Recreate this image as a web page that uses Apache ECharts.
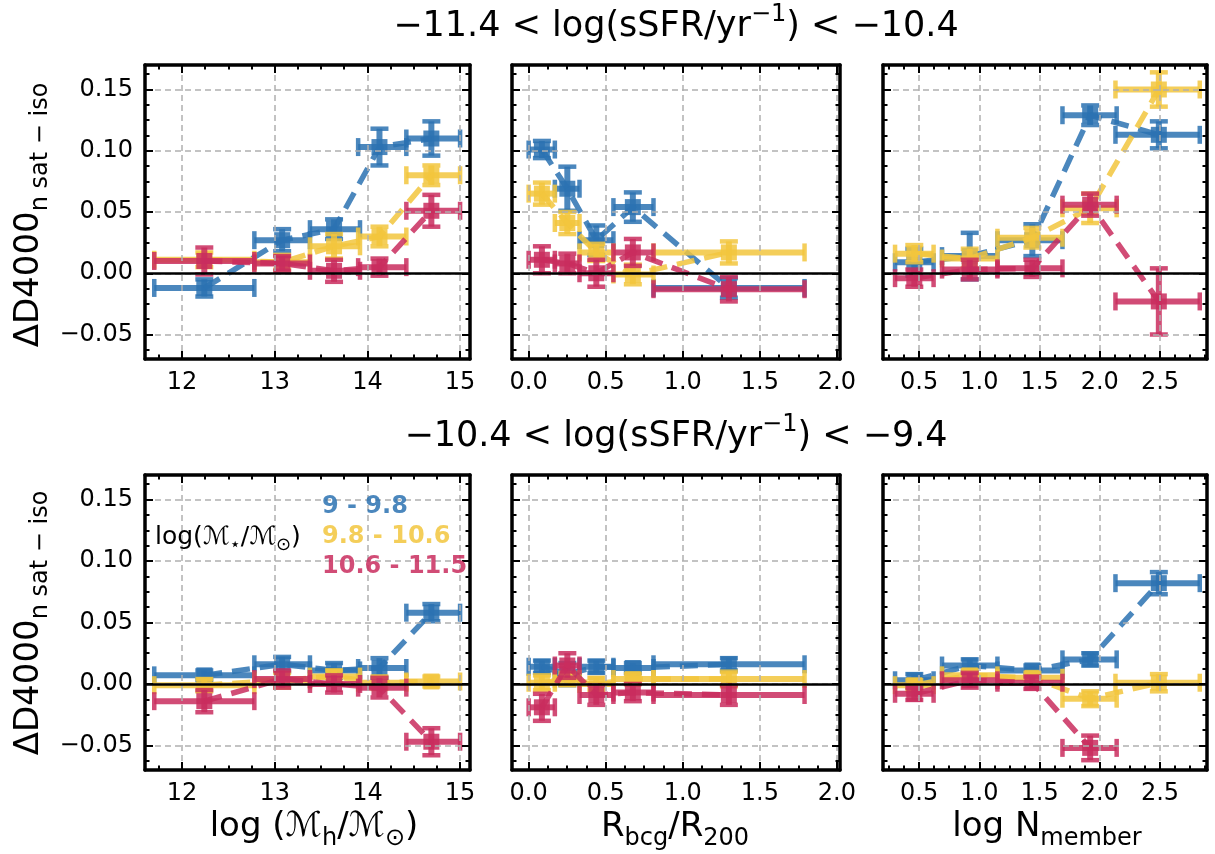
<!DOCTYPE html>
<html><head><meta charset="utf-8">
<script src="https://cdn.jsdelivr.net/npm/echarts@6/dist/echarts.min.js"></script>
<style>html,body{margin:0;padding:0;background:#fff}#chart{width:1215px;height:854px}</style>
</head><body><div id="chart"></div>
<script>
// ---------- bins (x centres and horizontal error extents) ----------
const mhX  = [12.24, 13.08, 13.64, 14.13, 14.69];
const mhLo = [11.70, 12.78, 13.38, 13.90, 14.42];
const mhHi = [12.78, 13.38, 13.92, 14.42, 15.00];
const rX   = [0.086, 0.251, 0.439, 0.676, 1.299];
const rLo  = [0.00, 0.17, 0.33, 0.55, 0.81];
const rHi  = [0.17, 0.33, 0.55, 0.81, 1.79];
const nX   = [0.46, 0.92, 1.44, 1.92, 2.49];
const nLo  = [0.30, 0.69, 1.15, 1.69, 2.13];
const nHi  = [0.62, 1.15, 1.69, 2.14, 2.83];

// ---------- y values [blue, yellow, red] and errors ----------
const yMhTop = [[-0.012, 0.027, 0.036, 0.103, 0.110],
                [ 0.011, 0.009, 0.022, 0.030, 0.080],
                [ 0.010, 0.008, 0.002, 0.005, 0.051]];
const eMhTop = [[0.007, 0.009, 0.008, 0.015, 0.014],
                [0.006, 0.006, 0.010, 0.008, 0.008],
                [0.011, 0.006, 0.009, 0.007, 0.013]];
const yRTop  = [[0.101, 0.069, 0.027, 0.054, -0.012],
                [0.065, 0.041, 0.017, -0.001, 0.017],
                [0.011, 0.008, 0.000, 0.017, -0.013]];
const eRTop  = [[0.007, 0.018, 0.012, 0.012, 0.008],
                [0.009, 0.009, 0.007, 0.008, 0.009],
                [0.011, 0.008, 0.011, 0.011, 0.010]];
const yNTop  = [[0.009, 0.014, 0.027, 0.129, 0.113],
                [0.016, 0.012, 0.029, 0.053, 0.150],
                [-0.004, 0.003, 0.004, 0.056, -0.023]];
const eNTop  = [[0.011, 0.019, 0.013, 0.008, 0.011],
                [0.007, 0.008, 0.008, 0.012, 0.014],
                [0.007, 0.008, 0.007, 0.009, 0.027]];
const yMhBot = [[0.007, 0.016, 0.011, 0.013, 0.058],
                [-0.001, 0.003, 0.006, 0.001, 0.002],
                [-0.014, 0.004, 0.000, -0.003, -0.047]];
const eMhBot = [[0.004, 0.006, 0.006, 0.008, 0.007],
                [0.005, 0.006, 0.005, 0.005, 0.004],
                [0.009, 0.007, 0.007, 0.008, 0.011]];
const yRBot  = [[0.014, 0.008, 0.014, 0.013, 0.016],
                [0.001, 0.004, 0.000, 0.004, 0.004],
                [-0.019, 0.015, -0.009, -0.007, -0.009]];
const eRBot  = [[0.005, 0.009, 0.005, 0.004, 0.005],
                [0.006, 0.005, 0.005, 0.004, 0.006],
                [0.011, 0.010, 0.008, 0.007, 0.008]];
const yNBot  = [[0.003, 0.015, 0.011, 0.020, 0.082],
                [-0.001, 0.007, 0.005, -0.012, 0.001],
                [-0.008, 0.003, 0.001, -0.052]];
const eNBot  = [[0.005, 0.005, 0.004, 0.005, 0.009],
                [0.004, 0.004, 0.004, 0.006, 0.007],
                [0.005, 0.006, 0.005, 0.010]];

// ---------- ticks ----------
const mhTicks = [12, 13, 14, 15];
const rTicks  = [0, 0.5, 1.0, 1.5, 2.0];
const nTicks  = [0.5, 1.0, 1.5, 2.0, 2.5];
const yTicks  = [-0.05, 0.00, 0.05, 0.10, 0.15];
const legendNames = ['9 - 9.8', '9.8 - 10.6', '10.6 - 11.5'];

// ---------- styling ----------
const FONT = 'DejaVu Sans';
const COLORS = ['#2C72B2', '#F2C53D', '#C92D5E'];
const OP = 0.85;
const YLIM = [-0.07, 0.17];
const MINUS = '\u2212';

function minorsOf(major, n, lim) {
  const step = (major[1] - major[0]) / n;
  const out = [];
  const start = major[0] - Math.ceil((major[0] - lim[0]) / step) * step;
  for (let v = start; v <= lim[1] + 1e-9; v += step) {
    const isMajor = major.some(m => Math.abs(m - v) < step / 10);
    if (!isMajor && v >= lim[0] - 1e-9) out.push(+v.toFixed(6));
  }
  return out;
}

const xKinds = {
  mh: {x: mhX, lo: mhLo, hi: mhHi, ticks: mhTicks, lim: [11.6, 15.107], fmt: v => String(Math.round(v))},
  r:  {x: rX, lo: rLo, hi: rHi, ticks: rTicks, lim: [-0.108, 2.02], fmt: v => v.toFixed(1)},
  n:  {x: nX, lo: nLo, hi: nHi, ticks: nTicks, lim: [0.2, 2.89], fmt: v => v.toFixed(1)}
};

const panels = [
  {kind: 'mh', ys: yMhTop, es: eMhTop, grid: {left: 145, top: 65, width: 325, height: 294}, ylab: true},
  {kind: 'r',  ys: yRTop,  es: eRTop,  grid: {left: 512, top: 65, width: 328, height: 294}, ylab: false},
  {kind: 'n',  ys: yNTop,  es: eNTop,  grid: {left: 883, top: 65, width: 324, height: 294}, ylab: false},
  {kind: 'mh', ys: yMhBot, es: eMhBot, grid: {left: 145, top: 475, width: 325, height: 295}, ylab: true},
  {kind: 'r',  ys: yRBot,  es: eRBot,  grid: {left: 512, top: 475, width: 328, height: 295}, ylab: false},
  {kind: 'n',  ys: yNBot,  es: eNBot,  grid: {left: 883, top: 475, width: 324, height: 295}, ylab: false}
];

function axesFor(dim, gi, lim, major, minor, showLabels, fmt) {
  const pos = dim === 'x' ? ['bottom', 'top'] : ['left', 'right'];
  const out = [];
  pos.forEach((p, pi) => {
    out.push({
      type: 'value', gridIndex: gi, position: p, min: lim[0], max: lim[1],
      axisLine: {show: true, onZero: false, lineStyle: {color: '#000', width: 3.5}},
      axisTick: {show: true, inside: true, length: 8, customValues: major, lineStyle: {color: '#000', width: 2}},
      axisLabel: {show: showLabels && pi === 0, customValues: major, formatter: fmt,
                  fontFamily: FONT, fontSize: 24, color: '#000', margin: 12},
      splitLine: {show: pi === 0, lineStyle: {color: '#b0b0b0', width: 1.5, type: [6, 4]}},
      minorTick: {show: false}, minorSplitLine: {show: false}, z: 5
    });
    out.push({
      type: 'value', gridIndex: gi, position: p, min: lim[0], max: lim[1],
      axisLine: {show: false, onZero: false},
      axisTick: {show: true, inside: true, length: 4.5, customValues: minor, lineStyle: {color: '#000', width: 2}},
      axisLabel: {show: false, customValues: minor},
      splitLine: {show: false}, z: 5
    });
  });
  return out;
}

function makeRender(color) {
  return function (params, api) {
    const x = api.value(0), y = api.value(1), lo = api.value(2), hi = api.value(3), e = api.value(4);
    const c = api.coord([x, y]), l = api.coord([lo, y]), h = api.coord([hi, y]);
    const t = api.coord([x, y + e]), b = api.coord([x, y - e]);
    const st = {stroke: color, lineWidth: 6, opacity: OP};
    const cs = {stroke: color, lineWidth: 4.5, opacity: OP};
    const cap = 9, ms = 16;
    return {type: 'group', children: [
      {type: 'line', shape: {x1: l[0], y1: l[1], x2: h[0], y2: h[1]}, style: st},
      {type: 'line', shape: {x1: t[0], y1: t[1], x2: b[0], y2: b[1]}, style: st},
      {type: 'line', shape: {x1: l[0], y1: l[1] - cap, x2: l[0], y2: l[1] + cap}, style: cs},
      {type: 'line', shape: {x1: h[0], y1: h[1] - cap, x2: h[0], y2: h[1] + cap}, style: cs},
      {type: 'line', shape: {x1: t[0] - cap, y1: t[1], x2: t[0] + cap, y2: t[1]}, style: cs},
      {type: 'line', shape: {x1: b[0] - cap, y1: b[1], x2: b[0] + cap, y2: b[1]}, style: cs},
      {type: 'rect', shape: {x: c[0] - ms / 2, y: c[1] - ms / 2, width: ms, height: ms}, style: {fill: color, opacity: OP}}
    ]};
  };
}

const grids = [], xAxes = [], yAxes = [], series = [];
const yMinor = minorsOf(yTicks, 4, YLIM);
panels.forEach((p, gi) => {
  const k = xKinds[p.kind];
  grids.push(Object.assign({containLabel: false}, p.grid));
  xAxes.push(...axesFor('x', gi, k.lim, k.ticks, minorsOf(k.ticks, 4, k.lim), true, k.fmt));
  yAxes.push(...axesFor('y', gi, YLIM, yTicks, yMinor, p.ylab,
    v => (v < 0 ? MINUS : '') + Math.abs(v).toFixed(2)));
  // zero line
  series.push({type: 'line', xAxisIndex: 4 * gi, yAxisIndex: 4 * gi, data: [], silent: true, z: 1,
    markLine: {silent: true, symbol: ['none', 'none'], label: {show: false},
      lineStyle: {color: '#000', width: 2.5, type: 'solid'}, data: [{yAxis: 0}]}});
  p.ys.forEach((yy, ci) => {
    const pts = yy.map((v, i) => [k.x[i], v]);
    const rows = yy.map((v, i) => [k.x[i], v, k.lo[i], k.hi[i], p.es[ci][i]]);
    series.push({type: 'line', name: legendNames[ci], xAxisIndex: 4 * gi, yAxisIndex: 4 * gi,
      data: pts, symbol: 'none', silent: true, z: 2 + ci,
      lineStyle: {color: COLORS[ci], width: 5.5, type: [18, 10], opacity: OP}});
    series.push({type: 'custom', name: legendNames[ci], xAxisIndex: 4 * gi, yAxisIndex: 4 * gi,
      data: rows, encode: {x: 0, y: 1}, renderItem: makeRender(COLORS[ci]), silent: true, z: 2 + ci});
  });
});

function richBase(size, sub) {
  return {
    m: {fontSize: size, fontFamily: FONT, fill: '#000', lineHeight: Math.round(size * 1.38), verticalAlign: 'middle'},
    s: {fontSize: sub, fontFamily: FONT, fill: '#000', lineHeight: sub, verticalAlign: 'bottom'},
    u: {fontSize: sub, fontFamily: FONT, fill: '#000', lineHeight: sub, verticalAlign: 'top'}
  };
}
function txt(x, y, text, rich, extra) {
  return Object.assign({type: 'text', x: x, y: y, z: 100,
    style: {text: text, align: 'center', verticalAlign: 'middle', rich: rich}}, extra || {});
}
const titleRich = richBase(35, 24);
const labRich = richBase(34, 24);
const graphics = [
  txt(676, 27, '{m|' + MINUS + '11.4 < log(sSFR/yr}{u|' + MINUS + '1}{m|) < ' + MINUS + '10.4}', titleRich),
  txt(676, 437, '{m|' + MINUS + '10.4 < log(sSFR/yr}{u|' + MINUS + '1}{m|) < ' + MINUS + '9.4}', titleRich),
  txt(29, 215, '{m|\u0394D4000}{s|n sat ' + MINUS + ' iso}', labRich, {rotation: Math.PI / 2}),
  txt(29, 623, '{m|\u0394D4000}{s|n sat ' + MINUS + ' iso}', labRich, {rotation: Math.PI / 2}),
  txt(314, 827, '{m|log (\u2133}{s|h}{m|/\u2133}{s|\u2299}{m|)}', labRich),
  txt(675, 827, '{m|R}{s|bcg}{m|/R}{s|200}', labRich),
  txt(1047, 827, '{m|log N}{s|member}', labRich),
  {type: 'text', x: 155, y: 537, z: 100, style: {text: '{m|log(\u2133}{s|\u22c6}{m|/\u2133}{s|\u2299}{m|)}',
    align: 'left', verticalAlign: 'middle', rich: richBase(25, 18)}}
];
legendNames.forEach((n, i) => {
  graphics.push({type: 'text', x: 322, y: 507 + 30 * i, z: 100, style: {text: n, fill: COLORS[i], opacity: OP,
    font: 'bold 24px "DejaVu Sans"', align: 'left', verticalAlign: 'middle'}});
});

const chart = echarts.init(document.getElementById('chart'), null, {renderer: 'canvas'});
chart.setOption({
  backgroundColor: '#fff',
  animation: false,
  grid: grids, xAxis: xAxes, yAxis: yAxes, series: series,
  graphic: graphics
});
</script></body></html>
